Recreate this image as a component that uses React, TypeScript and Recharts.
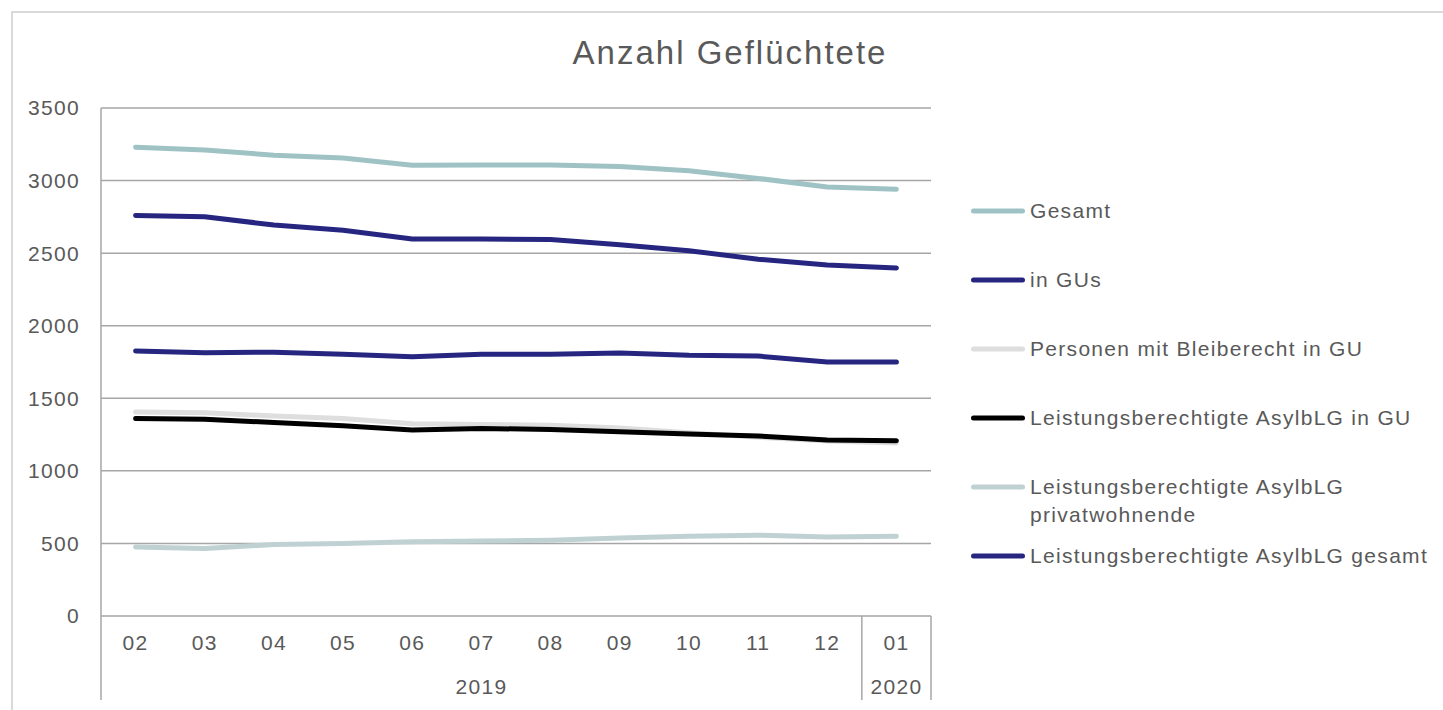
import React from 'react';
import { LineChart, Line, XAxis, YAxis, CartesianGrid, Legend } from 'recharts';

const months = ['02', '03', '04', '05', '06', '07', '08', '09', '10', '11', '12', '01'];
const years = ['2019', '2019', '2019', '2019', '2019', '2019', '2019', '2019', '2019', '2019', '2019', '2020'];

const gesamt = [3230, 3210, 3175, 3155, 3105, 3107, 3108, 3097, 3068, 3015, 2955, 2940];
const inGUs = [2760, 2750, 2694, 2658, 2597, 2598, 2594, 2558, 2517, 2458, 2418, 2398];
const bleiberecht = [1405, 1400, 1378, 1360, 1325, 1320, 1315, 1295, 1262, 1232, 1205, 1192];
const asylbInGU = [1360, 1356, 1333, 1310, 1282, 1292, 1285, 1270, 1254, 1240, 1213, 1208];
const privat = [475, 465, 492, 500, 512, 516, 522, 538, 550, 557, 545, 550];
const asylbGesamt = [1826, 1813, 1818, 1803, 1787, 1803, 1803, 1812, 1796, 1791, 1750, 1750];

const yTicks = [0, 500, 1000, 1500, 2000, 2500, 3000, 3500];

const seriesNames = [
  'Gesamt',
  'in GUs',
  'Personen mit Bleiberecht in GU',
  'Leistungsberechtigte AsylbLG in GU',
  'Leistungsberechtigte AsylbLG privatwohnende',
  'Leistungsberechtigte AsylbLG gesamt',
];
const seriesColors = ['#9fc3c5', '#262680', '#dedede', '#000000', '#c0d1d3', '#262680'];
const seriesValues = [gesamt, inGUs, bleiberecht, asylbInGU, privat, asylbGesamt];
const seriesKeys = ['s0', 's1', 's2', 's3', 's4', 's5'];

const data = months.map((m, i) => {
  const row: any = { month: m, year: years[i] };
  seriesKeys.forEach((k, s) => {
    row[k] = seriesValues[s][i];
  });
  return row;
});

const FONT = '"Liberation Sans", Arial, Helvetica, sans-serif';
const TEXT = '#595959';
const GRID = '#a6a6a6';

const CHART_W = 1443;
const CHART_H = 710;
const MARGIN = { top: 108, right: 512, bottom: 0, left: 0 };
const Y_W = 101;
const X_H = 94;
const PLOT_W = CHART_W - MARGIN.left - MARGIN.right - Y_W;
const BAND = PLOT_W / months.length;

function MonthTick(props: any) {
  const { x, y, payload, index } = props;
  const yr = years[index];
  const first = years.indexOf(yr);
  const n = years.filter((v) => v === yr).length;
  const isFirst = first === index;
  const isLast = index === months.length - 1;
  const ts = { fontFamily: FONT, fontSize: 21, fill: TEXT, letterSpacing: 1.3 } as any;
  return (
    <g>
      <text x={x} y={y + 34} textAnchor="middle" style={ts}>
        {payload.value}
      </text>
      {isFirst && (
        <line x1={x - BAND / 2} x2={x - BAND / 2} y1={y} y2={y + 84} stroke={GRID} strokeWidth={1.5} />
      )}
      {isFirst && (
        <text x={x + ((n - 1) / 2) * BAND} y={y + 78} textAnchor="middle" style={ts}>
          {yr}
        </text>
      )}
      {isLast && (
        <line x1={x + BAND / 2} x2={x + BAND / 2} y1={y} y2={y + 84} stroke={GRID} strokeWidth={1.5} />
      )}
    </g>
  );
}

function LegendContent(props: any) {
  const payload = [...(props.payload || [])].sort(
    (a: any, b: any) => seriesNames.indexOf(a.value) - seriesNames.indexOf(b.value)
  );
  return (
    <div style={{ fontFamily: FONT, fontSize: 21, color: TEXT, letterSpacing: 1.3 }}>
      {payload.map((p: any, i: number) => (
        <div key={i} style={{ display: 'flex', alignItems: 'flex-start', height: 69 }}>
          <svg width={54} height={28} style={{ flex: '0 0 auto' }}>
            <line x1={2.5} x2={51.5} y1={14} y2={14} stroke={p.color} strokeWidth={5} strokeLinecap="round" />
          </svg>
          <div style={{ marginLeft: 5, lineHeight: '28px', width: 420, whiteSpace: 'normal' }}>{p.value}</div>
        </div>
      ))}
    </div>
  );
}

export default function App() {
  return (
    <div
      style={{
        position: 'fixed',
        left: 0,
        top: 0,
        width: CHART_W,
        height: CHART_H,
        overflow: 'hidden',
        background: '#ffffff',
      }}
    >
      <div
        style={{
          position: 'absolute',
          left: 11,
          top: 11,
          width: 1500,
          height: 800,
          borderTop: '2px solid #d9d9d9',
          borderLeft: '2px solid #d9d9d9',
        }}
      />
      <div
        style={{
          position: 'absolute',
          left: 480,
          width: 500,
          top: 36,
          textAlign: 'center',
          fontFamily: FONT,
          fontSize: 33,
          lineHeight: '33px',
          color: TEXT,
          letterSpacing: 2,
        }}
      >
        Anzahl Geflüchtete
      </div>
      <div style={{ position: 'absolute', left: 0, top: 0 }}>
        <LineChart width={CHART_W} height={CHART_H} data={data} margin={MARGIN}>
          <CartesianGrid vertical={false} stroke={GRID} strokeWidth={1.5} />
          <XAxis
            dataKey="month"
            height={X_H}
            interval={0}
            tickLine={false}
            axisLine={false}
            tickSize={0}
            tickMargin={0}
            padding={{ left: BAND / 2, right: BAND / 2 }}
            tick={<MonthTick />}
          />
          <YAxis
            width={Y_W}
            domain={[0, 3500]}
            ticks={yTicks}
            interval={0}
            tickLine={false}
            tickSize={0}
            tickMargin={21}
            axisLine={{ stroke: GRID, strokeWidth: 1.5 }}
            tick={{ fontFamily: FONT, fontSize: 21, fill: TEXT, letterSpacing: 1.3 } as any}
          />
          {seriesKeys.map((k, s) => (
            <Line
              key={k}
              dataKey={k}
              name={seriesNames[s]}
              stroke={seriesColors[s]}
              strokeWidth={5}
              strokeLinecap="round"
              strokeLinejoin="round"
              dot={false}
              activeDot={false}
              type="linear"
              isAnimationActive={false}
            />
          ))}
          <Legend
            layout="vertical"
            align="center"
            verticalAlign="middle"
            content={<LegendContent />}
            wrapperStyle={{ position: 'absolute', left: 971, top: 197, width: 470 }}
          />
        </LineChart>
      </div>
    </div>
  );
}
